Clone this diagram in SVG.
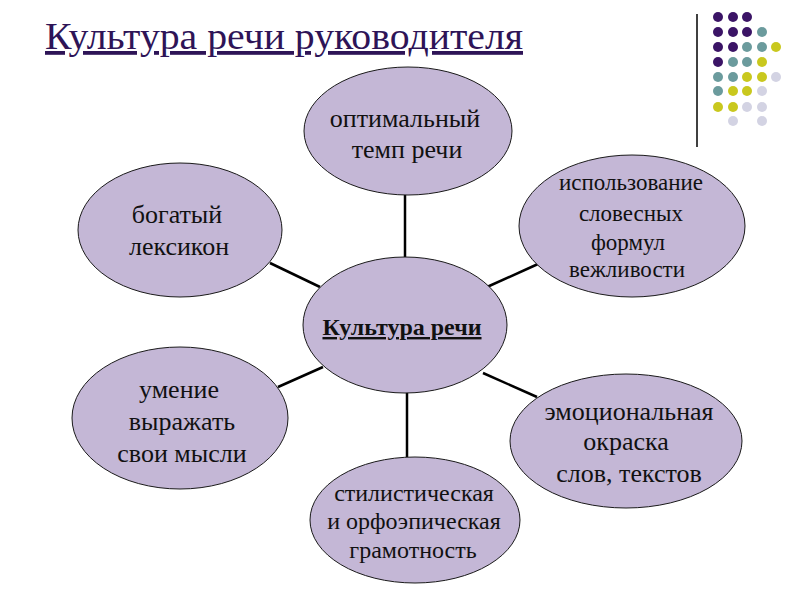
<svg xmlns="http://www.w3.org/2000/svg" width="800" height="600" viewBox="0 0 800 600">
<style>
.bg{fill:#ffffff}
.node ellipse{fill:#c4b7d6;stroke:#1a1a1a;stroke-width:1}
.lbl{font-family:"Liberation Serif","Times New Roman",serif;fill:#111;text-anchor:middle}
.conn line{stroke:#000;stroke-width:2.5}
.title{font-family:"Liberation Serif","Times New Roman",serif;font-size:38px;fill:#2e1457;text-decoration:underline}
.p{fill:#3b1466}.t{fill:#6b9b9d}.y{fill:#c9c81e}.l{fill:#d3d3e3}
</style>
<rect class="bg" x="0" y="0" width="800" height="600"/>
<text class="title" x="45" y="49" textLength="478" lengthAdjust="spacingAndGlyphs">Культура речи руководителя</text>
<g id="decor">
<line x1="697" y1="14" x2="697" y2="147" stroke="#000" stroke-width="1.5"/>
<g>
<circle class="p" cx="718" cy="17" r="5"/><circle class="p" cx="733" cy="17" r="5"/><circle class="p" cx="747" cy="17" r="5"/>
<circle class="p" cx="718" cy="32" r="5"/><circle class="p" cx="733" cy="32" r="5"/><circle class="p" cx="747" cy="32" r="5"/><circle class="t" cx="762" cy="32" r="5"/>
<circle class="p" cx="718" cy="47" r="5"/><circle class="p" cx="733" cy="47" r="5"/><circle class="t" cx="747" cy="47" r="5"/><circle class="t" cx="762" cy="47" r="5"/><circle class="y" cx="776" cy="47" r="5"/>
<circle class="p" cx="718" cy="62" r="5"/><circle class="t" cx="733" cy="62" r="5"/><circle class="t" cx="747" cy="62" r="5"/><circle class="y" cx="762" cy="62" r="5"/>
<circle class="t" cx="718" cy="77" r="5"/><circle class="t" cx="733" cy="77" r="5"/><circle class="y" cx="747" cy="77" r="5"/><circle class="y" cx="762" cy="77" r="5"/><circle class="l" cx="776" cy="77" r="5"/>
<circle class="t" cx="718" cy="91" r="5"/><circle class="y" cx="733" cy="91" r="5"/><circle class="y" cx="747" cy="91" r="5"/><circle class="l" cx="762" cy="91" r="5"/>
<circle class="y" cx="718" cy="107" r="5"/><circle class="y" cx="733" cy="107" r="5"/><circle class="l" cx="747" cy="107" r="5"/><circle class="l" cx="762" cy="107" r="5"/>
<circle class="l" cx="733" cy="121" r="5"/><circle class="l" cx="762" cy="121" r="5"/>
</g>
</g>
<g id="connectors" class="conn">
<line x1="405" y1="195" x2="405" y2="262"/>
<line x1="270" y1="263" x2="320" y2="287"/>
<line x1="538" y1="264" x2="487" y2="287"/>
<line x1="278" y1="387" x2="323" y2="367"/>
<line x1="483" y1="373" x2="537" y2="397"/>
<line x1="407" y1="391" x2="407" y2="457"/>
</g>
<g id="n-top" class="node">
<ellipse cx="408" cy="131" rx="104" ry="64"/>
<text class="lbl" font-size="26"><tspan x="405" y="127">оптимальный</tspan><tspan x="407" y="158">темп речи</tspan></text>
</g>
<g id="n-lexicon" class="node">
<ellipse cx="180" cy="230" rx="102" ry="67"/>
<text class="lbl" font-size="26"><tspan x="177" y="223">богатый</tspan><tspan x="179" y="255">лексикон</tspan></text>
</g>
<g id="n-formulas" class="node">
<ellipse cx="632" cy="226" rx="113" ry="71"/>
<text class="lbl" font-size="23"><tspan x="631" y="190">использование</tspan><tspan x="631" y="221">словесных</tspan><tspan x="628" y="250">формул</tspan><tspan x="627" y="277">вежливости</tspan></text>
</g>
<g id="n-center" class="node">
<ellipse cx="405" cy="325" rx="102" ry="68"/>
<text class="lbl" font-size="24" font-weight="bold" text-decoration="underline" x="402" y="335">Культура речи</text>
</g>
<g id="n-express" class="node">
<ellipse cx="180" cy="418" rx="108" ry="71"/>
<text class="lbl" font-size="26"><tspan x="179" y="398">умение</tspan><tspan x="182" y="430">выражать</tspan><tspan x="182" y="462">свои мысли</tspan></text>
</g>
<g id="n-emotion" class="node">
<ellipse cx="626" cy="441" rx="116" ry="67"/>
<text class="lbl" font-size="26"><tspan x="629" y="420">эмоциональная</tspan><tspan x="626" y="450">окраска</tspan><tspan x="629" y="482">слов, текстов</tspan></text>
</g>
<g id="n-style" class="node">
<ellipse cx="415" cy="520" rx="105" ry="63"/>
<text class="lbl" font-size="24"><tspan x="414" y="501">стилистическая</tspan><tspan x="414" y="529">и орфоэпическая</tspan><tspan x="413" y="558">грамотность</tspan></text>
</g>
</svg>
